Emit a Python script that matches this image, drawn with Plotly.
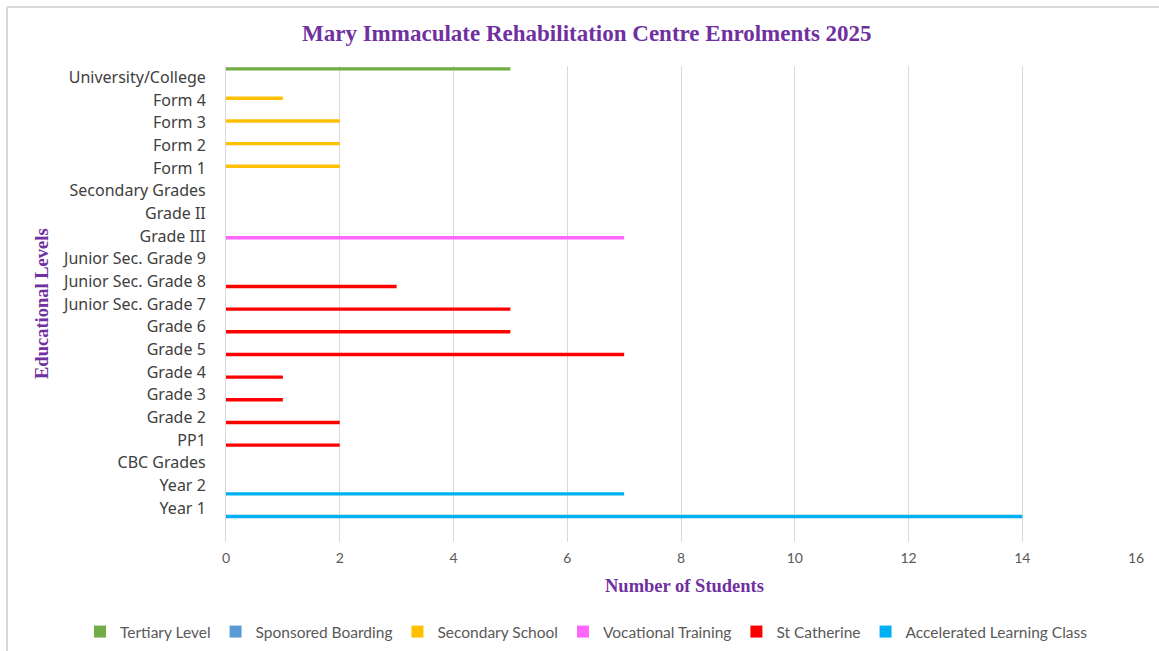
import plotly.graph_objects as go

categories = ["Year 1", "Year 2", "CBC Grades", "PP1", "Grade 2", "Grade 3", "Grade 4",
              "Grade 5", "Grade 6", "Junior Sec. Grade 7", "Junior Sec. Grade 8",
              "Junior Sec. Grade 9", "Grade III", "Grade II", "Secondary Grades",
              "Form 1", "Form 2", "Form 3", "Form 4", "University/College"]

tertiary = [None]*19 + [5]
sponsored = [None]*20
secondary = [None]*15 + [2, 2, 2, 1, None]
vocational = [None]*12 + [7] + [None]*7
st_catherine = [None, None, None, 2, 2, 1, 1, 7, 5, 5, 3] + [None]*9
accelerated = [14, 7] + [None]*18

# trace order bottom->top within a group
series = [
    ("Accelerated Learning Class", accelerated, "#00B0F0"),
    ("St Catherine", st_catherine, "#FF0000"),
    ("Vocational Training", vocational, "#FF66FF"),
    ("Secondary School", secondary, "#FFC000"),
    ("Sponsored Boarding", sponsored, "#5B9BD5"),
    ("Tertiary Level", tertiary, "#70AD47"),
]

fig = go.Figure()
for name, vals, col in series:
    fig.add_trace(go.Bar(y=categories, x=vals, name=name, orientation="h",
                         marker=dict(color=col, line=dict(width=0))))

L, R, T, B = 226, 1136, 66, 542
W, H = 1159, 651

def px(x):
    return (x - L) / (R - L)

def py(y):
    return (B - y) / (B - T)

purple = "#7030A0"
fig.update_layout(
    width=W, height=H,
    margin=dict(l=L, r=W - R, t=T, b=H - B, autoexpand=False),
    paper_bgcolor="white", plot_bgcolor="white",
    barmode="group", bargap=0.1, bargroupgap=0,
    showlegend=True,
    legend=dict(orientation="h", traceorder="reversed", x=px(80), xanchor="left",
                y=py(632), yanchor="middle",
                font=dict(family="Lato", size=15.5, color="#595959"),
                tracegroupgap=0),
    xaxis=dict(range=[0, 16], dtick=2, showgrid=True, gridcolor="#d9d9d9", gridwidth=1,
               zeroline=False, showline=False, ticklabelstandoff=6,
               tickfont=dict(family="Lato", size=14, color="#595959"),
               fixedrange=True),
    yaxis=dict(type="category", categoryorder="array", categoryarray=categories,
               range=[-1.5, 19.5], showgrid=False, zeroline=False,
               showline=True, linecolor="#d9d9d9", linewidth=1,
               ticklabelstandoff=16,
               tickfont=dict(family="Noto Sans", size=16, color="#404040")),
    annotations=[
        dict(text="<b>Mary Immaculate Rehabilitation Centre Enrolments 2025</b>",
             xref="paper", yref="paper", x=px(587), y=py(33), xanchor="center", yanchor="middle",
             showarrow=False, font=dict(family="Liberation Serif", size=23, color=purple)),
        dict(text="<b>Number of Students</b>", xref="paper", yref="paper",
             x=px(684), y=py(586), xanchor="center", yanchor="middle", showarrow=False,
             font=dict(family="Liberation Serif", size=18.5, color=purple)),
        dict(text="<b>Educational Levels</b>", xref="paper", yref="paper",
             x=px(42), y=py(304), xanchor="center", yanchor="middle", showarrow=False,
             textangle=-90, font=dict(family="Liberation Serif", size=18.5, color=purple)),
    ],
    shapes=[
        dict(type="line", xref="paper", yref="paper", x0=px(7), x1=px(7), y0=py(7), y1=py(651),
             line=dict(color="#d9d9d9", width=2)),
        dict(type="line", xref="paper", yref="paper", x0=px(7), x1=px(1159), y0=py(7), y1=py(7),
             line=dict(color="#d9d9d9", width=2)),
    ],
)

fig.write_html("out.html", config={"displayModeBar": False},
               post_script="document.body.style.margin='0';")
